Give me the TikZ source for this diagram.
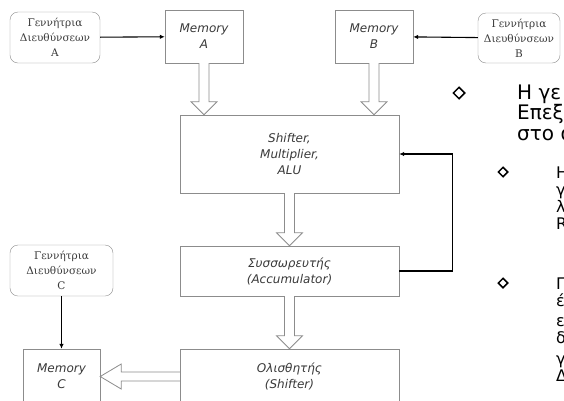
\documentclass[tikz,border=0pt]{standalone}
\usepackage{fontspec}
\setmainfont{DejaVu Serif}
\setsansfont{DejaVu Sans}
\usepackage{tikz}
\usetikzlibrary{arrows.meta,calc,positioning,shapes.geometric}

\definecolor{boxgray}{HTML}{8C8C8C}
\definecolor{txtgray}{HTML}{3A3A3A}

\tikzset{
  gen/.style={draw=boxgray,rounded corners=8pt,fill=white,align=center,inner sep=2pt,
    font=\fontsize{10.5}{15}\selectfont,text=txtgray},
  unit/.style={draw=boxgray,fill=white,align=center,inner sep=2pt,
    font=\sffamily\itshape\fontsize{12}{16}\selectfont,text=txtgray},
  fatarrow/.style={draw=boxgray,fill=white,line width=0.8pt},
  wire/.style={-{Latex[length=5pt,width=4.5pt]},line width=1.1pt},
  bullet/.style={draw,shape=diamond,line width=1.5pt,inner sep=0pt},
  bigtxt/.style={anchor=base west,inner sep=0pt,font=\sffamily\fontsize{20}{22}\selectfont},
  subtxt/.style={anchor=base west,inner sep=0pt,font=\sffamily\fontsize{16}{18}\selectfont},
}

% hollow block arrows
\newcommand{\fatdown}[2]{%
  \draw[fatarrow] ($(#1)+(-5,0)$) -- ($(#2)+(-5,-13)$) -- ($(#2)+(-13,-13)$)
    -- (#2) -- ($(#2)+(13,-13)$) -- ($(#2)+(5,-13)$) -- ($(#1)+(5,0)$);}
\newcommand{\fatleft}[2]{%
  \draw[fatarrow] ($(#1)+(0,-4.5)$) -- ($(#2)+(21,-4.5)$) -- ($(#2)+(21,-12.5)$)
    -- (#2) -- ($(#2)+(21,12.5)$) -- ($(#2)+(21,4.5)$) -- ($(#1)+(0,4.5)$);}

\begin{document}
\begin{tikzpicture}[x=1pt,y=-1pt,>=Latex]
  \useasboundingbox (0,0) rectangle (564,400);
  \clip (0,0) rectangle (564,400);

  % address generators
  \node[gen,minimum width=90,minimum height=51] (genA) at (55,37.5)
    {Γεννήτρια\\Διευθύνσεων\\A};
  \node[gen,minimum width=82,minimum height=50] (genB) at (519,38)
    {Γεννήτρια\\Διευθύνσεων\\B};
  \node[gen,minimum width=103,minimum height=51] (genC) at (61.5,270.5)
    {Γεννήτρια\\Διευθύνσεων\\C};

  % memories
  \node[unit,minimum width=78,minimum height=53] (memA) at (204,36.5) {Memory\\A};
  \node[unit,minimum width=78,minimum height=53] (memB) at (374,36.5) {Memory\\B};
  \node[unit,minimum width=77,minimum height=55] (memC) at (61.5,376.5) {Memory\\C};

  % datapath
  \node[unit,minimum width=219,minimum height=78] (shift) at (289.5,154)
    {Shifter,\\Multiplier,\\ALU};
  \node[unit,minimum width=219,minimum height=50] (acc) at (289.5,271)
    {Συσσωρευτής\\(Accumulator)};
  \node[unit,minimum width=219,minimum height=55] (olis) at (289.5,376.5)
    {Ολισθητής\\(Shifter)};

  % address lines
  \draw[wire] (genA) -- (memA);
  \draw[wire] (genB) -- (memB);
  \draw[wire] (genC) -- (memC);

  % data flow
  \coordinate (tipA) at (memA.south |- shift.north);
  \coordinate (tipB) at (memB.south |- shift.north);
  \fatdown{memA.south}{tipA}
  \fatdown{memB.south}{tipB}
  \fatdown{shift.south}{acc.north}
  \fatdown{acc.south}{olis.north}
  \fatleft{olis.west}{memC.east}

  % feedback
  \draw[wire] (acc.east) -- ++(53,0) |- (shift.east);

  % slide text (cut at the edge)
  \node[bullet,minimum size=12] (b1) at (459,93) {};
  \node[bigtxt] (t1a) at (517,99) {Η γε};
  \node[bigtxt] (t1b) at (517,119) {Επεξ};
  \node[bigtxt] (t1c) at (517,140) {στο ά};

  \node[bullet,minimum size=10] (b2) at (503,172) {};
  \node[subtxt] (t2a) at (556,178) {Η};
  \node[subtxt] (t2b) at (556,195) {γ};
  \node[subtxt] (t2c) at (556,212) {λ};
  \node[subtxt] (t2d) at (556,229) {R};

  \node[bullet,minimum size=10] (b3) at (503,283) {};
  \node[subtxt] (t3a) at (556,289) {Γ};
  \node[subtxt] (t3b) at (556,306) {έ};
  \node[subtxt] (t3c) at (556,326) {ε};
  \node[subtxt] (t3d) at (556,343) {δ};
  \node[subtxt] (t3e) at (556,364) {γ};
  \node[subtxt] (t3f) at (556,381) {Δ};
\end{tikzpicture}
\end{document}
